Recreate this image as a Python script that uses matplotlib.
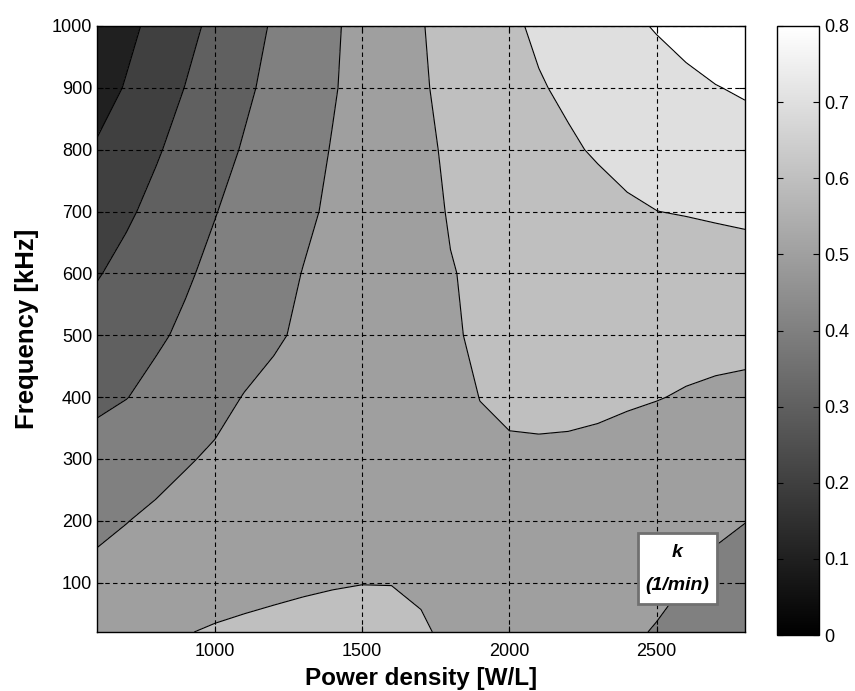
import matplotlib

matplotlib.use("Agg")
import matplotlib.pyplot as plt
import numpy as np
from matplotlib.cm import ScalarMappable
from matplotlib.colors import Normalize
from matplotlib.patches import Rectangle

plt.rcParams["font.family"] = ["Liberation Sans", "DejaVu Sans"]

# grid nodes
power = [600, 700, 800, 900, 1000, 1100, 1200, 1300, 1400, 1500, 1600, 1700,
         1800, 1900, 2000, 2100, 2200, 2300, 2400, 2500, 2600, 2700, 2800]
freq = [20, 100, 200, 300, 400, 500, 600, 700, 800, 900, 1000]

# k (1/min) at each node, one row per frequency (bottom to top)
k_f20 = [0.566, 0.578, 0.588, 0.597, 0.607, 0.614, 0.619, 0.622, 0.623, 0.621, 0.615, 0.605,
         0.592, 0.579, 0.566, 0.553, 0.540, 0.527, 0.512, 0.495, 0.478, 0.461, 0.445]
k_f100 = [0.527, 0.537, 0.547, 0.557, 0.567, 0.576, 0.584, 0.591, 0.596, 0.599, 0.599, 0.594,
          0.588, 0.582, 0.575, 0.567, 0.558, 0.547, 0.534, 0.519, 0.4995, 0.478, 0.455]
k_f200 = [0.479, 0.498, 0.515, 0.531, 0.545, 0.557, 0.567, 0.575, 0.581, 0.586, 0.589, 0.591,
          0.589, 0.587, 0.584, 0.579, 0.572, 0.564, 0.554, 0.543, 0.530, 0.515, 0.502]
k_f300 = [0.431, 0.452, 0.472, 0.493, 0.511, 0.525, 0.538, 0.550, 0.561, 0.570, 0.578, 0.585,
          0.590, 0.593, 0.595, 0.594, 0.592, 0.588, 0.580, 0.572, 0.563, 0.553, 0.541]
k_f400 = [0.384, 0.398, 0.423, 0.449, 0.476, 0.503, 0.518, 0.530, 0.542, 0.553, 0.564, 0.576,
          0.588, 0.6005, 0.606, 0.609, 0.610, 0.609, 0.606, 0.602, 0.596, 0.589, 0.581]
k_f500 = [0.339, 0.364, 0.388, 0.414, 0.439, 0.465, 0.491, 0.511, 0.527, 0.544, 0.560, 0.577,
          0.593, 0.609, 0.613, 0.614, 0.614, 0.615, 0.616, 0.618, 0.619, 0.621, 0.624]
k_f600 = [0.294, 0.326, 0.358, 0.390, 0.419, 0.447, 0.475, 0.502, 0.521, 0.540, 0.559, 0.578,
          0.5975, 0.609, 0.614, 0.620, 0.627, 0.633, 0.640, 0.647, 0.654, 0.661, 0.668]
k_f700 = [0.252, 0.287, 0.324, 0.360, 0.397, 0.427, 0.456, 0.486, 0.512, 0.535, 0.559, 0.582,
          0.604, 0.617, 0.631, 0.645, 0.659, 0.673, 0.690, 0.6995, 0.704, 0.709, 0.713]
k_f800 = [0.210, 0.251, 0.291, 0.331, 0.369, 0.407, 0.439, 0.472, 0.504, 0.531, 0.559, 0.586,
          0.610, 0.630, 0.650, 0.670, 0.690, 0.708, 0.722, 0.730, 0.739, 0.749, 0.760]
k_f900 = [0.158, 0.207, 0.255, 0.302, 0.343, 0.385, 0.423, 0.458, 0.494, 0.527, 0.559, 0.592,
          0.619, 0.644, 0.669, 0.694, 0.713, 0.730, 0.746, 0.763, 0.780, 0.797, 0.810]
k_f1000 = [0.125, 0.176, 0.226, 0.274, 0.321, 0.365, 0.409, 0.449, 0.489, 0.526, 0.561, 0.596,
           0.626, 0.656, 0.686, 0.713, 0.736, 0.760, 0.783, 0.806, 0.829, 0.851, 0.873]

levels = [0.1, 0.2, 0.3, 0.4, 0.5, 0.6, 0.7, 0.8, 0.9]
cbar_ticks = [0, 0.1, 0.2, 0.3, 0.4, 0.5, 0.6, 0.7, 0.8]

K = np.array([k_f20, k_f100, k_f200, k_f300, k_f400, k_f500,
              k_f600, k_f700, k_f800, k_f900, k_f1000])
P, F = np.meshgrid(power, freq)

vmax = 0.8
# each band gets the gray of its lower level (matlab contourf style)
band_colors = [str(min(lv / vmax, 1.0)) for lv in levels[:-1]]

fig = plt.figure(figsize=(8.55, 6.91), dpi=100)
ax = fig.add_axes([97 / 855, 59 / 691, 648 / 855, 606 / 691])

ax.contourf(P, F, K, levels=levels, colors=band_colors)
ax.contour(P, F, K, levels=levels[1:-1], colors="k", linewidths=0.8)

ax.set_xlim(600, 2800)
ax.set_ylim(20, 1000)
ax.set_xticks([1000, 1500, 2000, 2500])
ax.set_yticks(range(100, 1001, 100))
ax.grid(True, color="k", linestyle=(0, (4, 3)), linewidth=0.8)
ax.set_axisbelow(False)
ax.tick_params(direction="in", top=True, right=True, length=4, labelsize=13)
ax.tick_params(axis="x", pad=8)
for s in ax.spines.values():
    s.set_linewidth(1.0)

ax.set_xlabel("Power density [W/L]", fontsize=17.5, fontweight="bold", labelpad=5)
ax.set_ylabel("Frequency [kHz]", fontsize=18.5, fontweight="bold", labelpad=9)

# label box in the lower right corner
ax.add_patch(Rectangle((2437, 65), 268, 115, facecolor="white", edgecolor="#707070",
                       linewidth=2, zorder=5))
ax.text(2571, 149, "k", ha="center", va="center", fontsize=14,
        fontweight="bold", fontstyle="italic", zorder=6)
ax.text(2571, 96, "(1/min)", ha="center", va="center", fontsize=14,
        fontweight="bold", fontstyle="italic", zorder=6)

cax = fig.add_axes([777 / 855, 56 / 691, 42 / 855, 609 / 691])
sm = ScalarMappable(norm=Normalize(0, vmax), cmap="gray")
cb = fig.colorbar(sm, cax=cax, ticks=cbar_ticks)
cb.ax.set_yticklabels([f"{t:g}" for t in cbar_ticks])
cb.ax.tick_params(direction="in", left=True, right=True, length=4, labelsize=13)
cb.outline.set_linewidth(1.0)

fig.savefig("out.png", dpi=100)
